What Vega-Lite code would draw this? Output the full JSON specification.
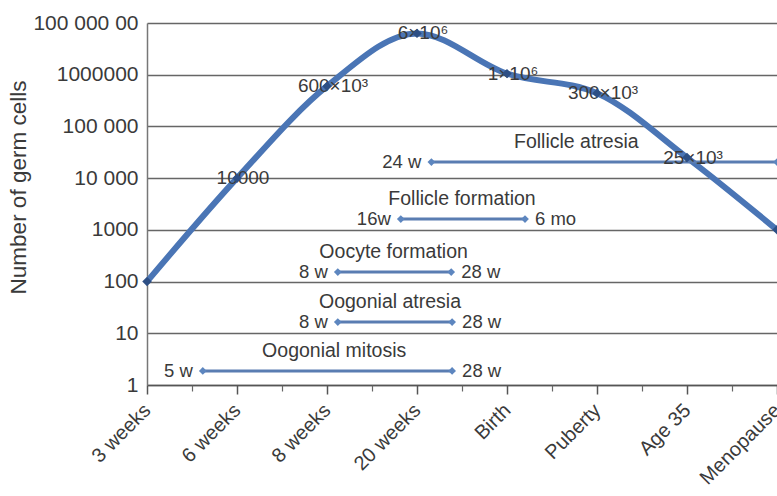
{
  "$schema": "https://vega.github.io/schema/vega-lite/v6.json",
  "width": 630,
  "height": 362,
  "autosize": {"type": "none"},
  "padding": {"left": 147, "top": 23, "right": 0, "bottom": 111},
  "background": "white",
  "config": {
    "font": "Liberation Sans",
    "view": {"stroke": null},
    "text": {"font": "Liberation Sans", "fontSize": 19, "color": "#3a3a3a"}
  },
  "datasets": {
    "curve": [
      {"stage": 0, "cells": 100, "label": ""},
      {"stage": 1, "cells": 10000, "label": "10000"},
      {"stage": 2, "cells": 600000, "label": "600×10³"},
      {"stage": 3, "cells": 6300000, "label": "6×10⁶"},
      {"stage": 4, "cells": 1050000, "label": "1×10⁶"},
      {"stage": 5, "cells": 440000, "label": "300×10³"},
      {"stage": 6, "cells": 25000, "label": "25×10³"},
      {"stage": 7, "cells": 1000, "label": ""}
    ],
    "ranges": [
      {"process": "Oogonial mitosis", "start": 0.62, "end": 3.39, "level": 1.87, "startLabel": "5 w", "endLabel": "28 w", "labelAt": 2.08},
      {"process": "Oogonial atresia", "start": 2.12, "end": 3.39, "level": 16.5, "startLabel": "8 w", "endLabel": "28 w", "labelAt": 2.70},
      {"process": "Oocyte formation", "start": 2.12, "end": 3.38, "level": 153, "startLabel": "8 w", "endLabel": "28 w", "labelAt": 2.74},
      {"process": "Follicle formation", "start": 2.82, "end": 4.2, "level": 1620, "startLabel": "16w", "endLabel": "6 mo", "labelAt": 3.50},
      {"process": "Follicle atresia", "start": 3.16, "end": 7.0, "level": 20500, "startLabel": "24 w", "endLabel": "", "labelAt": 4.77}
    ]
  },
  "resolve": {"axis": {"x": "independent"}},
  "layer": [
    {
      "data": {"name": "curve"},
      "mark": {"type": "line", "interpolate": "monotone", "color": "#4a75b5", "strokeWidth": 6, "clip": true},
      "encoding": {
        "x": {
          "field": "stage", "type": "quantitative",
          "scale": {"domain": [0, 7], "nice": false, "zero": false},
          "axis": {
            "orient": "bottom",
            "values": [0, 1, 2, 3, 4, 5, 6, 7],
            "labelExpr": "['3 weeks','6 weeks','8 weeks','20 weeks','Birth','Puberty','Age 35','Menopause'][datum.value]",
            "labelAngle": -45, "labelAlign": "right", "labelBaseline": "middle",
            "labelFontSize": 20, "labelColor": "#3a3a3a", "labelPadding": 13,
            "tickSize": 9, "tickColor": "#555", "tickWidth": 1.5,
            "domainColor": "#555", "domainWidth": 1.5,
            "grid": false, "title": null, "labelFlush": false, "labelOverlap": false
          }
        },
        "y": {
          "field": "cells", "type": "quantitative",
          "scale": {"type": "log", "domain": [1, 10000000], "nice": false},
          "axis": {
            "values": [1, 10, 100, 1000, 10000, 100000, 1000000, 10000000],
            "labelExpr": "datum.value >= 9999999 ? '100 000 00' : datum.value >= 999999 ? '1000000' : datum.value >= 99999 ? '100 000' : datum.value >= 9999 ? '10 000' : datum.value >= 999 ? '1000' : datum.value >= 99 ? '100' : datum.value >= 9 ? '10' : '1'",
            "labelFontSize": 21, "labelColor": "#3a3a3a", "labelPadding": 9,
            "ticks": false, "domainColor": "#777", "domainWidth": 1.5,
            "grid": true, "gridColor": "#666", "gridWidth": 1.5,
            "title": "Number of germ cells", "titleFontSize": 22.5, "titleFontWeight": "normal",
            "titleColor": "#3a3a3a", "titlePadding": 2, "titleY": 164
          }
        }
      }
    },
    {
      "data": {"name": "ranges"},
      "mark": {"type": "rule", "color": "#5a7db2", "strokeWidth": 3},
      "encoding": {
        "x": {
          "field": "start", "type": "quantitative",
          "axis": {
            "orient": "bottom",
            "values": [0.5, 1.5, 2.5, 3.5, 4.5, 5.5, 6.5],
            "labels": false, "domain": false, "grid": false, "title": null,
            "tickSize": 6, "tickColor": "#666", "tickWidth": 1.2
          }
        },
        "x2": {"field": "end"},
        "y": {"field": "level", "type": "quantitative"}
      }
    },
    {
      "data": {"name": "ranges"},
      "mark": {"type": "point", "shape": "diamond", "filled": true, "size": 60, "color": "#5d86bf", "opacity": 1},
      "encoding": {
        "x": {"field": "start", "type": "quantitative", "axis": null},
        "y": {"field": "level", "type": "quantitative"}
      }
    },
    {
      "data": {"name": "ranges"},
      "mark": {"type": "point", "shape": "diamond", "filled": true, "size": 60, "color": "#5d86bf", "opacity": 1},
      "encoding": {
        "x": {"field": "end", "type": "quantitative", "axis": null},
        "y": {"field": "level", "type": "quantitative"}
      }
    },
    {
      "data": {"name": "ranges"},
      "mark": {"type": "text", "align": "right", "baseline": "middle", "dx": -10, "fontSize": 18.5},
      "encoding": {
        "x": {"field": "start", "type": "quantitative", "axis": null},
        "y": {"field": "level", "type": "quantitative"},
        "text": {"field": "startLabel"}
      }
    },
    {
      "data": {"name": "ranges"},
      "mark": {"type": "text", "align": "left", "baseline": "middle", "dx": 10, "fontSize": 18.5},
      "encoding": {
        "x": {"field": "end", "type": "quantitative", "axis": null},
        "y": {"field": "level", "type": "quantitative"},
        "text": {"field": "endLabel"}
      }
    },
    {
      "data": {"name": "ranges"},
      "mark": {"type": "text", "align": "center", "baseline": "middle", "dy": -20, "fontSize": 19.5},
      "encoding": {
        "x": {"field": "labelAt", "type": "quantitative", "axis": null},
        "y": {"field": "level", "type": "quantitative"},
        "text": {"field": "process"}
      }
    },
    {
      "data": {"name": "curve"},
      "mark": {"type": "text", "align": "center", "baseline": "middle", "dx": 6, "fontSize": 19},
      "encoding": {
        "x": {"field": "stage", "type": "quantitative", "axis": null},
        "y": {"field": "cells", "type": "quantitative"},
        "text": {"field": "label"}
      }
    },
    {
      "data": {"name": "curve"},
      "mark": {"type": "point", "shape": "diamond", "filled": true, "size": 90, "color": "#2d4f85", "opacity": 1},
      "encoding": {
        "x": {"field": "stage", "type": "quantitative", "axis": null},
        "y": {"field": "cells", "type": "quantitative"}
      }
    }
  ]
}
